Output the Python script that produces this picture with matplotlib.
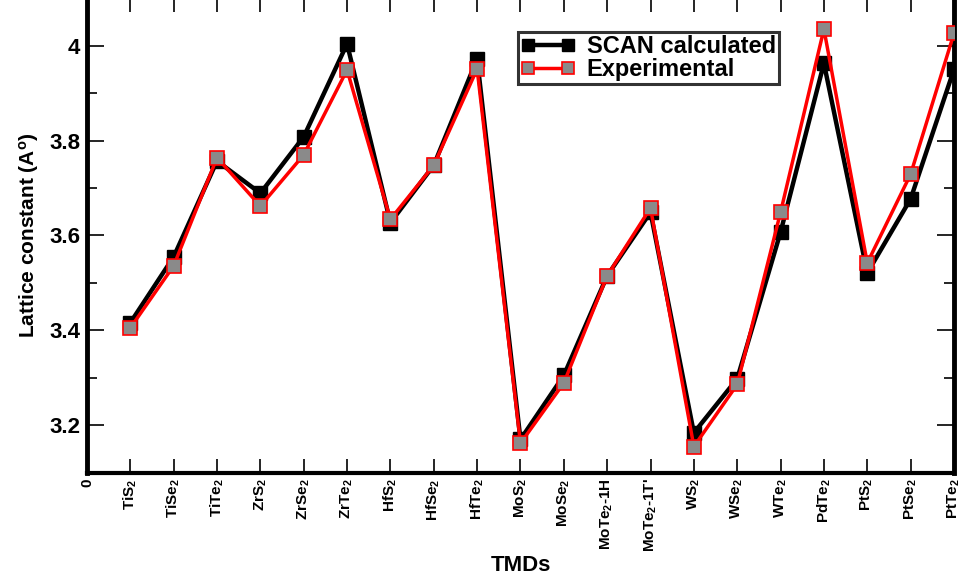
import matplotlib

matplotlib.use("Agg")
import matplotlib.pyplot as plt
from matplotlib.ticker import MultipleLocator

plt.rcParams["font.family"] = ["Liberation Sans", "DejaVu Sans"]
plt.rcParams["font.weight"] = "bold"
plt.rcParams["mathtext.fontset"] = "custom"
plt.rcParams["mathtext.rm"] = "Liberation Sans:bold"
plt.rcParams["mathtext.it"] = "Liberation Sans:bold"
plt.rcParams["mathtext.bf"] = "Liberation Sans:bold"

# lattice constants (Angstrom) per TMD
tmds = [
    "TiS$_2$", "TiSe$_2$", "TiTe$_2$", "ZrS$_2$", "ZrSe$_2$", "ZrTe$_2$",
    "HfS$_2$", "HfSe$_2$", "HfTe$_2$", "MoS$_2$", "MoSe$_2$", "MoTe$_2$-1H",
    "MoTe$_2$-1T'", "WS$_2$", "WSe$_2$", "WTe$_2$", "PdTe$_2$", "PtS$_2$",
    "PtSe$_2$", "PtTe$_2$",
]
scan = [3.416, 3.555, 3.757, 3.689, 3.808, 4.004, 3.627, 3.748, 3.972, 3.170,
        3.305, 3.515, 3.649, 3.184, 3.298, 3.607, 3.963, 3.521, 3.677, 3.950]
expt = [3.405, 3.536, 3.764, 3.662, 3.770, 3.949, 3.634, 3.748, 3.951, 3.162,
        3.289, 3.515, 3.658, 3.155, 3.286, 3.649, 4.035, 3.542, 3.729, 4.026]

xpos = list(range(1, len(tmds) + 1))

fig = plt.figure(figsize=(9.64, 5.77), dpi=100)
ax = fig.add_axes([0.0902, 0.1808, 0.8994, 0.8222])

ax.plot(xpos, scan, color="black", linewidth=3.2, marker="s", markersize=10.5,
        markerfacecolor="black", markeredgecolor="black", label="SCAN calculated", zorder=3)
ax.plot(xpos, expt, color="#ff0000", linewidth=2.5, marker="s", markersize=10.5,
        markerfacecolor="#8a8a8a", markeredgecolor="#ff0000", markeredgewidth=1.2,
        label="Experimental", zorder=4)

ax.set_xlim(0, 20)
ax.set_ylim(3.1, 4.1)
ax.set_xticks([0] + xpos)
ax.set_xticklabels(["0"] + tmds, rotation=90, fontsize=11, fontweight="bold")
ax.yaxis.set_minor_locator(MultipleLocator(0.1))
ax.set_yticks([3.2, 3.4, 3.6, 3.8, 4.0])
ax.set_yticklabels(["3.2", "3.4", "3.6", "3.8", "4"], fontsize=16, fontweight="bold")

ax.tick_params(axis="both", which="both", direction="in", top=True, right=True)
ax.tick_params(axis="y", which="major", length=12, width=1.2, pad=5)
ax.tick_params(axis="y", which="minor", length=7, width=1.2)
ax.tick_params(axis="x", which="major", length=10, width=1.2, pad=4)
for side in ("left", "right"):
    ax.spines[side].set_linewidth(3.5)
for side in ("top", "bottom"):
    ax.spines[side].set_linewidth(3.0)

ax.set_ylabel("Lattice constant (A$^{o}$)", fontsize=15, fontweight="bold", labelpad=6)
ax.set_xlabel("TMDs", fontsize=16, fontweight="bold", labelpad=2)

leg = ax.legend(loc="upper left", bbox_to_anchor=(0.497, 0.929), fontsize=17,
                numpoints=2, markerscale=0.85, frameon=True, fancybox=False,
                handlelength=2.3, handletextpad=0.5, borderpad=0.12,
                labelspacing=0.0, borderaxespad=0)
leg.get_frame().set_edgecolor("black")
leg.get_frame().set_linewidth(2.2)
for t in leg.get_texts():
    t.set_fontweight("bold")

fig.savefig("out.png", dpi=100)
